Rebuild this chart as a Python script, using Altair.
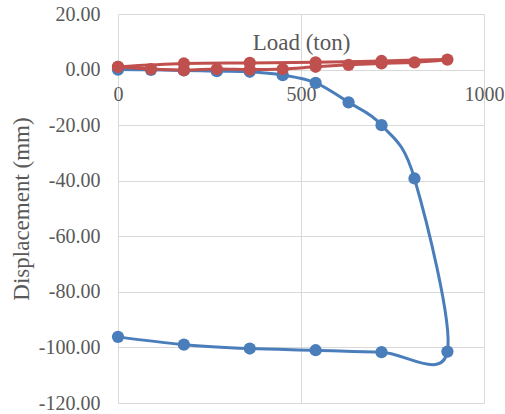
import altair as alt
import pandas as pd

# Blue series: loading then unloading (load in ton, displacement in mm)
blue_load = [0, 90, 180, 270, 360, 450, 540, 630, 720, 810, 900, 720, 540, 360, 180, 0]
blue_disp = [0.0, -0.1, -0.3, -0.6, -0.8, -2.0, -4.8, -11.8, -20.0, -39.2, -101.5,
             -101.7, -101.0, -100.4, -99.0, -96.2]

# Red series: loading then unloading
red_load = [0, 90, 180, 270, 360, 450, 540, 630, 720, 810, 900, 720, 540, 360, 180, 0]
red_disp = [1.0, 0.2, -0.2, 0.2, 0.0, 0.2, 1.0, 1.7, 2.2, 2.6, 3.6,
            3.1, 2.6, 2.4, 2.2, 1.0]

x_ticks = [0, 500, 1000]
y_ticks = [-120, -100, -80, -60, -40, -20, 0, 20]

rows = []
for i, (l, d) in enumerate(zip(blue_load, blue_disp)):
    rows.append({"series": "Blue", "idx": i, "load": l, "disp": d})
for i, (l, d) in enumerate(zip(red_load, red_disp)):
    rows.append({"series": "Red", "idx": i, "load": l, "disp": d})
df = pd.DataFrame(rows)

FONT = "Liberation Serif"
GRID = "#d9d9d9"
TXT = "#595959"

color = alt.Color("series:N", scale=alt.Scale(domain=["Blue", "Red"],
                                              range=["#4a7ebb", "#c0504d"]),
                  legend=None)

x = alt.X("load:Q", scale=alt.Scale(domain=[0, 1000], nice=False),
          axis=alt.Axis(values=x_ticks, title="Load (ton)", offset=-333,
                        labelExpr="format(datum.value, 'd')",
                        labelPadding=14, ticks=False, domainColor=GRID,
                        labelFlush=False, titleY=-39, titleBaseline="top"))
y = alt.Y("disp:Q", scale=alt.Scale(domain=[-120, 20], nice=False),
          axis=alt.Axis(values=y_ticks, title="Displacement (mm)",
                        labelExpr="(datum.value < 0 ? '-' : '') + format(abs(datum.value), '.2f')",
                        ticks=False, domain=False,
                        labelPadding=18, titlePadding=5))

base = alt.Chart(df)
lines = base.mark_line(interpolate="cardinal", strokeWidth=3, clip=False).encode(
    x=x, y=y, color=color, detail="series:N", order=alt.Order("idx:Q"))
points = base.mark_point(filled=True, size=150, opacity=1, clip=False).encode(
    x=x, y=y, color=color)

chart = alt.layer(lines, points).properties(
    width=366, height=389,
    autosize=alt.AutoSizeParams(type="none"),
    padding={"left": 118, "top": 14, "right": 21, "bottom": 11},
).configure(font=FONT).configure_axis(
    labelFont=FONT, labelFontSize=20, labelColor=TXT,
    titleFont=FONT, titleFontSize=23, titleFontWeight="normal", titleColor=TXT,
    gridColor=GRID,
).configure_view(stroke=None)

chart.save("out.html", embed_options={"renderer": "svg", "actions": False})
